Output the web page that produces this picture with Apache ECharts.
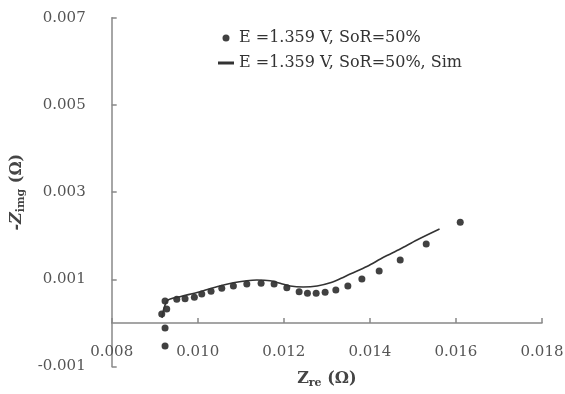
<!DOCTYPE html>
<html>
<head>
<meta charset="utf-8">
<script src="https://cdn.jsdelivr.net/npm/echarts@6/dist/echarts.min.js"></script>
<style>
html,body{margin:0;padding:0;background:#fff;}
#chart{width:565px;height:394px;}
</style>
</head>
<body>
<div id="chart"></div>
<script>
// Measured data (Nyquist plot)
const expLabel = 'E =1.359 V, SoR=50%';
const simLabel = 'E =1.359 V, SoR=50%, Sim';
const expRe = [0.00924, 0.00924, 0.009163, 0.009279, 0.00924, 0.009512, 0.009705, 0.009921, 0.010093, 0.010309, 0.010558, 0.010828, 0.01114, 0.011472, 0.011774, 0.01207, 0.012356, 0.012549, 0.012751, 0.01296, 0.013209, 0.013488, 0.013814, 0.014216, 0.014705, 0.015309, 0.0161];
const expIm = [-0.000528, -0.000115, 0.000206, 0.000321, 0.000505, 0.000544, 0.000557, 0.000589, 0.000665, 0.000727, 0.000796, 0.000849, 0.000894, 0.000911, 0.000894, 0.00081, 0.000718, 0.000681, 0.000681, 0.000704, 0.000757, 0.000849, 0.001009, 0.001193, 0.001445, 0.001812, 0.00231];
const simRe = [0.00917, 0.009216, 0.009309, 0.009588, 0.010053, 0.010442, 0.010828, 0.01114, 0.011372, 0.011681, 0.011914, 0.012147, 0.012449, 0.012774, 0.0131, 0.013333, 0.013542, 0.01393, 0.014316, 0.014705, 0.015093, 0.015619];
const simIm = [0.000115, 0.000344, 0.000528, 0.000603, 0.000718, 0.000833, 0.000924, 0.00097, 0.000986, 0.00097, 0.000911, 0.000849, 0.000826, 0.000849, 0.000929, 0.001025, 0.001124, 0.001296, 0.001507, 0.001697, 0.001904, 0.002156];
const xMin = 0.008, xMax = 0.018, xStep = 0.002;
const yMin = -0.001, yMax = 0.007;
const yTickValues = [-0.001, 0.001, 0.003, 0.005, 0.007];

const FONT = 'DejaVu Serif';
const chart = echarts.init(document.getElementById('chart'), null, {renderer: 'canvas'});
chart.setOption({
  backgroundColor: '#ffffff',
  animation: false,
  grid: {left: 111.7, right: 23, top: 17.8, bottom: 27.4, outerBoundsMode: 'none'},
  legend: {
    orient: 'vertical',
    left: 213,
    top: 24,
    itemWidth: 16,
    itemHeight: 7,
    itemGap: 7,
    textStyle: {fontFamily: FONT, fontSize: 16, color: '#333', lineHeight: 18},
    data: [
      {name: expLabel, icon: 'circle'},
      {name: simLabel, icon: 'path://M0,0H16V3H0Z'}
    ]
  },
  xAxis: {
    type: 'value',
    min: xMin, max: xMax, interval: xStep,
    axisLine: {onZero: true, lineStyle: {color: '#888', width: 1.5}},
    axisTick: {inside: true, length: 5, lineStyle: {color: '#888', width: 1.5}},
    splitLine: {show: false},
    axisLabel: {
      margin: -22, fontFamily: FONT, fontSize: 15, color: '#555',
      formatter: v => v.toFixed(3)
    },
    name: '{b|Z}{s|re}{b| (Ω)}',
    nameLocation: 'middle',
    nameGap: 3,
    nameTextStyle: {
      verticalAlign: 'top',
      rich: {
        b: {fontFamily: FONT, fontWeight: 'bold', fontSize: 16, color: '#444'},
        s: {fontFamily: FONT, fontWeight: 'bold', fontSize: 11, color: '#444', padding: [8, 0, 0, 0]}
      }
    }
  },
  yAxis: {
    type: 'value',
    min: yMin, max: yMax,
    axisLine: {lineStyle: {color: '#888', width: 1.5}},
    axisTick: {inside: true, length: 5, customValues: yTickValues, lineStyle: {color: '#888', width: 1.5}},
    splitLine: {show: false},
    axisLabel: {
      margin: 26, fontFamily: FONT, fontSize: 15, color: '#555',
      customValues: yTickValues,
      formatter: v => v.toFixed(3)
    },
    name: '{bi|-Z}{s|img}{b| (Ω)}',
    nameLocation: 'middle',
    nameRotate: 90,
    nameGap: 80,
    nameTextStyle: {
      rich: {
        bi: {fontFamily: FONT, fontWeight: 'bold', fontStyle: 'italic', fontSize: 16, color: '#444'},
        b: {fontFamily: FONT, fontWeight: 'bold', fontSize: 16, color: '#444'},
        s: {fontFamily: FONT, fontWeight: 'bold', fontSize: 11, color: '#444', padding: [8, 0, 0, 0]}
      }
    }
  },
  series: [
    {
      name: expLabel,
      type: 'scatter',
      symbol: 'circle',
      symbolSize: 7,
      itemStyle: {color: '#111'},
      data: expRe.map((x, i) => [x, expIm[i]])
    },
    {
      name: simLabel,
      type: 'line',
      symbol: 'none',
      smooth: 0.3,
      lineStyle: {color: '#333', width: 1.6},
      itemStyle: {color: '#333'},
      data: simRe.map((x, i) => [x, simIm[i]])
    }
  ]
});
</script>
</body>
</html>
